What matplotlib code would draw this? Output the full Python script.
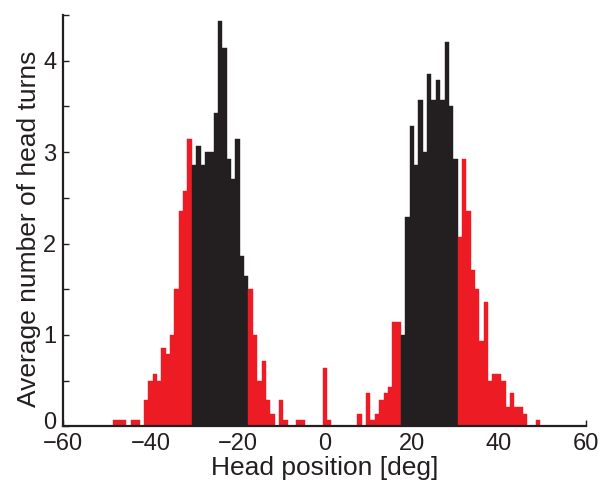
import matplotlib
matplotlib.use("Agg")
import matplotlib.pyplot as plt
from matplotlib.ticker import MultipleLocator
from matplotlib.transforms import ScaledTranslation

# Histogram data: 1-degree bins centred on integer head positions
positions = list(range(-48, 50))
counts = [
    # -48 .. -31
    0.07, 0.07, 0.07, 0.0, 0.07, 0.07, 0.0, 0.29, 0.50, 0.57, 0.50, 0.86, 0.79, 1.00, 1.50, 2.36, 2.57, 3.14,
    # -30 .. -18 (black)
    2.86, 3.07, 2.86, 3.00, 3.00, 3.43, 4.43, 4.14, 2.93, 2.71, 3.14, 1.86, 1.64,
    # -17 .. 17
    1.50, 1.00, 0.50, 0.71, 0.29, 0.14, 0.0, 0.29, 0.07, 0.0, 0.0, 0.07, 0.07, 0.0, 0.0, 0.0, 0.0,
    0.64, 0.07, 0.0, 0.0, 0.0, 0.0, 0.0, 0.0, 0.14, 0.0, 0.36, 0.07, 0.14, 0.29, 0.36, 0.43, 1.14, 1.14,
    # 18 .. 30 (black)
    1.00, 2.29, 3.29, 2.86, 3.57, 3.00, 3.86, 3.57, 3.79, 3.57, 4.21, 3.50, 2.93,
    # 31 .. 49
    2.07, 2.93, 2.36, 1.71, 1.50, 0.93, 1.36, 0.50, 0.57, 0.57, 0.50, 0.21, 0.36, 0.21, 0.21, 0.14, 0.0, 0.0, 0.07,
]
central_low, central_high = 18, 30   # |position| range drawn in black

x_ticks = [-60, -40, -20, 0, 20, 40, 60]
y_ticks = [0, 1, 2, 3, 4]

RED = "#ED1C24"
BLACK = "#231F20"

plt.rcParams['font.family'] = ['Liberation Sans', 'DejaVu Sans']

fig = plt.figure(figsize=(6.03, 4.86), dpi=100)
ax = fig.add_axes([0.105, 0.1228, 0.867, 0.8463])

colors = [BLACK if central_low <= abs(p) <= central_high else RED for p in positions]
ax.bar(positions, counts, width=1.0, color=colors, edgecolor=colors, linewidth=0.3, zorder=2)

ax.set_xlim(-60, 60)
ax.set_ylim(0, 4.5)
ax.set_xticks(x_ticks)
ax.set_yticks(y_ticks)
ax.yaxis.set_minor_locator(MultipleLocator(0.5))

for s in ['top', 'right']:
    ax.spines[s].set_visible(False)
for s in ['left', 'bottom']:
    ax.spines[s].set_linewidth(1.6)
    ax.spines[s].set_color(BLACK)
    ax.spines[s].set_zorder(3)

ax.tick_params(axis='both', which='both', direction='in', length=4, width=1.0,
               color=BLACK, labelcolor=BLACK, labelsize=17)
ax.tick_params(axis='x', pad=4.5)
ax.tick_params(axis='y', pad=5)

# lift the bottom y tick label slightly, as in the reference
lbl0 = ax.get_yticklabels()[0]
lbl0.set_transform(lbl0.get_transform() + ScaledTranslation(0, 4 / 72, fig.dpi_scale_trans))

ax.set_xlabel("Head position [deg]", fontsize=19, color=BLACK, labelpad=1)
ax.set_ylabel("Average number of head turns", fontsize=19, color=BLACK)
ax.yaxis.set_label_coords(-0.043, 0.48)

fig.savefig("out.png", dpi=100)
